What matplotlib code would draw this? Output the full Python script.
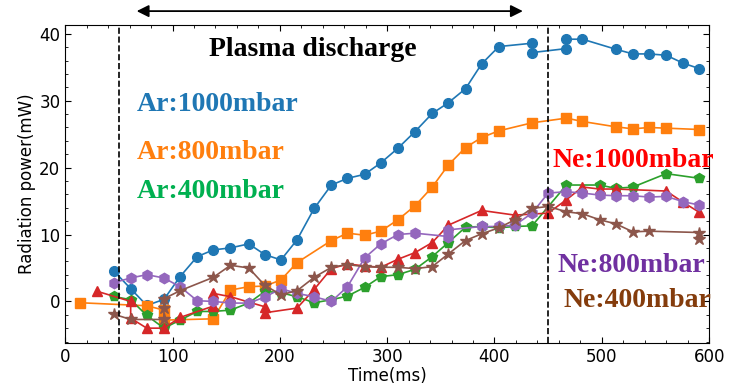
import numpy as np
import matplotlib
matplotlib.use('Agg')
import matplotlib.pyplot as plt
from matplotlib.ticker import MultipleLocator

# Ar 1000 mbar
t_ar1000 = [45, 61, 76, 92, 107, 123, 138, 154, 171, 186, 201, 216, 232, 248, 263, 279, 294, 310,
            326, 342, 357, 373, 388, 404, 435, 435, 467, 467, 482, 513, 529, 544, 560, 576, 591]
p_ar1000 = [4.6, 1.9, -0.6, 0.3, 3.7, 6.7, 7.7, 8.0, 8.6, 7.0, 6.2, 9.2, 13.9, 17.4, 18.4, 19.0, 20.7, 22.9,
            25.4, 28.1, 29.7, 31.8, 35.5, 38.1, 38.6, 37.2, 37.8, 39.2, 39.2, 37.7, 37.0, 37.0, 36.8, 35.6, 34.8]

# Ar 800 mbar
t_ar800 = [14, 76, 92, 92, 138, 154, 171, 186, 201, 216, 248, 263, 279, 294, 310, 326, 342, 357,
           373, 388, 404, 435, 467, 482, 513, 529, 544, 560, 591]
p_ar800 = [-0.2, -0.65, -1.3, -2.8, -2.6, 1.7, 2.2, 2.3, 3.2, 5.8, 9.1, 10.2, 9.9, 10.5, 12.2, 14.3, 17.1, 20.4,
           23.0, 24.5, 25.5, 26.7, 27.4, 26.9, 26.1, 25.8, 26.0, 25.9, 25.7]

# Ar 400 mbar
t_ar400 = [45, 61, 76, 92, 107, 123, 138, 154, 171, 186, 201, 216, 232, 248, 263, 279, 294, 310,
           326, 342, 357, 373, 388, 404, 419, 435, 467, 498, 513, 529, 560, 591]
p_ar400 = [0.75, 0.25, -2.1, -4.0, -2.8, -1.5, -1.5, -1.3, -0.25, 1.5, 1.3, 0.7, -0.2, 0.25, 0.8, 2.1, 3.7, 4.0,
           4.8, 6.7, 8.8, 11.1, 11.2, 11.0, 11.2, 11.3, 17.4, 17.4, 16.9, 17.1, 19.1, 18.4]

# Ne 1000 mbar
t_ne1000 = [30, 61, 61, 76, 92, 107, 138, 138, 154, 186, 186, 216, 232, 248, 263, 279, 294, 310,
            326, 342, 357, 388, 419, 450, 467, 482, 498, 513, 560, 576, 591]
p_ne1000 = [1.5, 0.0, -2.5, -4.0, -4.0, -2.4, -0.7, 1.2, 0.7, -0.8, -1.7, -1.0, 1.8, 4.9, 5.6, 5.3, 5.1, 6.3,
            7.3, 8.8, 11.4, 13.6, 12.9, 13.2, 15.2, 17.1, 16.8, 16.8, 16.5, 14.8, 13.3]

# Ne 800 mbar
t_ne800 = [45, 61, 76, 92, 107, 123, 138, 154, 171, 186, 201, 216, 232, 248, 263, 279, 294, 310,
           326, 357, 357, 388, 404, 419, 435, 450, 467, 482, 498, 513, 529, 544, 560, 576, 591]
p_ne800 = [2.8, 3.5, 4.0, 3.5, 2.2, 0.1, 0.0, -0.25, -0.25, 0.65, 1.9, 1.2, 0.7, 0.0, 2.2, 6.5, 8.6, 10.0,
           10.2, 9.7, 10.7, 11.2, 11.2, 11.4, 13.2, 16.2, 16.4, 16.2, 15.9, 15.8, 15.8, 15.6, 15.7, 14.9, 14.4]

# Ne 400 mbar
t_ne400 = [45, 61, 92, 92, 92, 107, 138, 154, 171, 186, 201, 216, 232, 248, 263, 279, 294, 310,
           326, 342, 357, 373, 388, 404, 419, 435, 450, 467, 482, 498, 513, 529, 544, 591, 591]
p_ne400 = [-1.9, -2.7, -2.7, -1.0, 0.4, 1.6, 3.6, 5.4, 5.0, 2.4, 1.0, 1.6, 3.6, 5.1, 5.5, 5.2, 5.1, 5.1,
           4.9, 5.2, 7.1, 9.1, 10.1, 11.0, 12.2, 13.9, 14.2, 13.4, 13.1, 12.2, 11.6, 10.4, 10.5, 10.3, 9.3]

fig = plt.figure(figsize=(7.41, 3.87), dpi=100)
ax = fig.add_axes([0.088, 0.114, 0.869, 0.821])

ms = 7
lw = 1.2
ax.plot(t_ar1000, p_ar1000, 'o-', color='#1f77b4', ms=ms, lw=lw)
ax.plot(t_ar800, p_ar800, 's-', color='#ff7f0e', ms=ms, lw=lw)
ax.plot(t_ar400, p_ar400, 'p-', color='#2ca02c', ms=ms + 0.5, lw=lw)
ax.plot(t_ne1000, p_ne1000, '^-', color='#d62728', ms=ms + 0.5, lw=lw)
ax.plot(t_ne800, p_ne800, 'h-', color='#9467bd', ms=ms + 0.5, lw=lw)
ax.plot(t_ne400, p_ne400, '*-', color='#8c564b', ms=ms + 2, lw=lw)

ax.axvline(50, color='black', ls='--', lw=1.2)
ax.axvline(450, color='black', ls='--', lw=1.2)

ax.set_xlim(0, 600)
ax.set_ylim(-6.2, 41.3)
ax.xaxis.set_major_locator(MultipleLocator(100))
ax.xaxis.set_minor_locator(MultipleLocator(20))
ax.yaxis.set_major_locator(MultipleLocator(10))
ax.yaxis.set_minor_locator(MultipleLocator(2))
ax.tick_params(which='both', direction='in', top=True, right=True, labelsize=12)
ax.tick_params(which='major', length=4)
ax.tick_params(which='minor', length=2)
for s in ax.spines.values():
    s.set_linewidth(0.8)

ax.set_xlabel('Time(ms)', fontsize=12, labelpad=1)
ax.set_ylabel('Radiation power(mW)', fontsize=12, labelpad=2)

serif = 'Liberation Serif'
fs = 20
ax.text(231, 37.6, 'Plasma discharge', fontsize=fs, fontweight='bold', family=serif,
        ha='center', va='center')
ax.text(67, 29.4, 'Ar:1000mbar', fontsize=fs, fontweight='bold', family=serif,
        color='#1f77b4', va='center')
ax.text(67, 22.2, 'Ar:800mbar', fontsize=fs, fontweight='bold', family=serif,
        color='#ff7f0e', va='center')
ax.text(67, 16.5, 'Ar:400mbar', fontsize=fs, fontweight='bold', family=serif,
        color='#00b050', va='center')
ax.text(454, 21.1, 'Ne:1000mbar', fontsize=fs, fontweight='bold', family=serif,
        color='#ff0000', va='center', clip_on=False)
ax.text(459, 5.4, 'Ne:800mbar', fontsize=fs, fontweight='bold', family=serif,
        color='#7030a0', va='center', clip_on=False)
ax.text(464, 0.2, 'Ne:400mbar', fontsize=fs, fontweight='bold', family=serif,
        color='#843c0c', va='center', clip_on=False)

ax.annotate('', xy=(64, 43.4), xytext=(429, 43.4), annotation_clip=False,
            arrowprops=dict(arrowstyle='<|-|>', color='black', lw=1.3, mutation_scale=18))

plt.savefig('out.png', dpi=100)
